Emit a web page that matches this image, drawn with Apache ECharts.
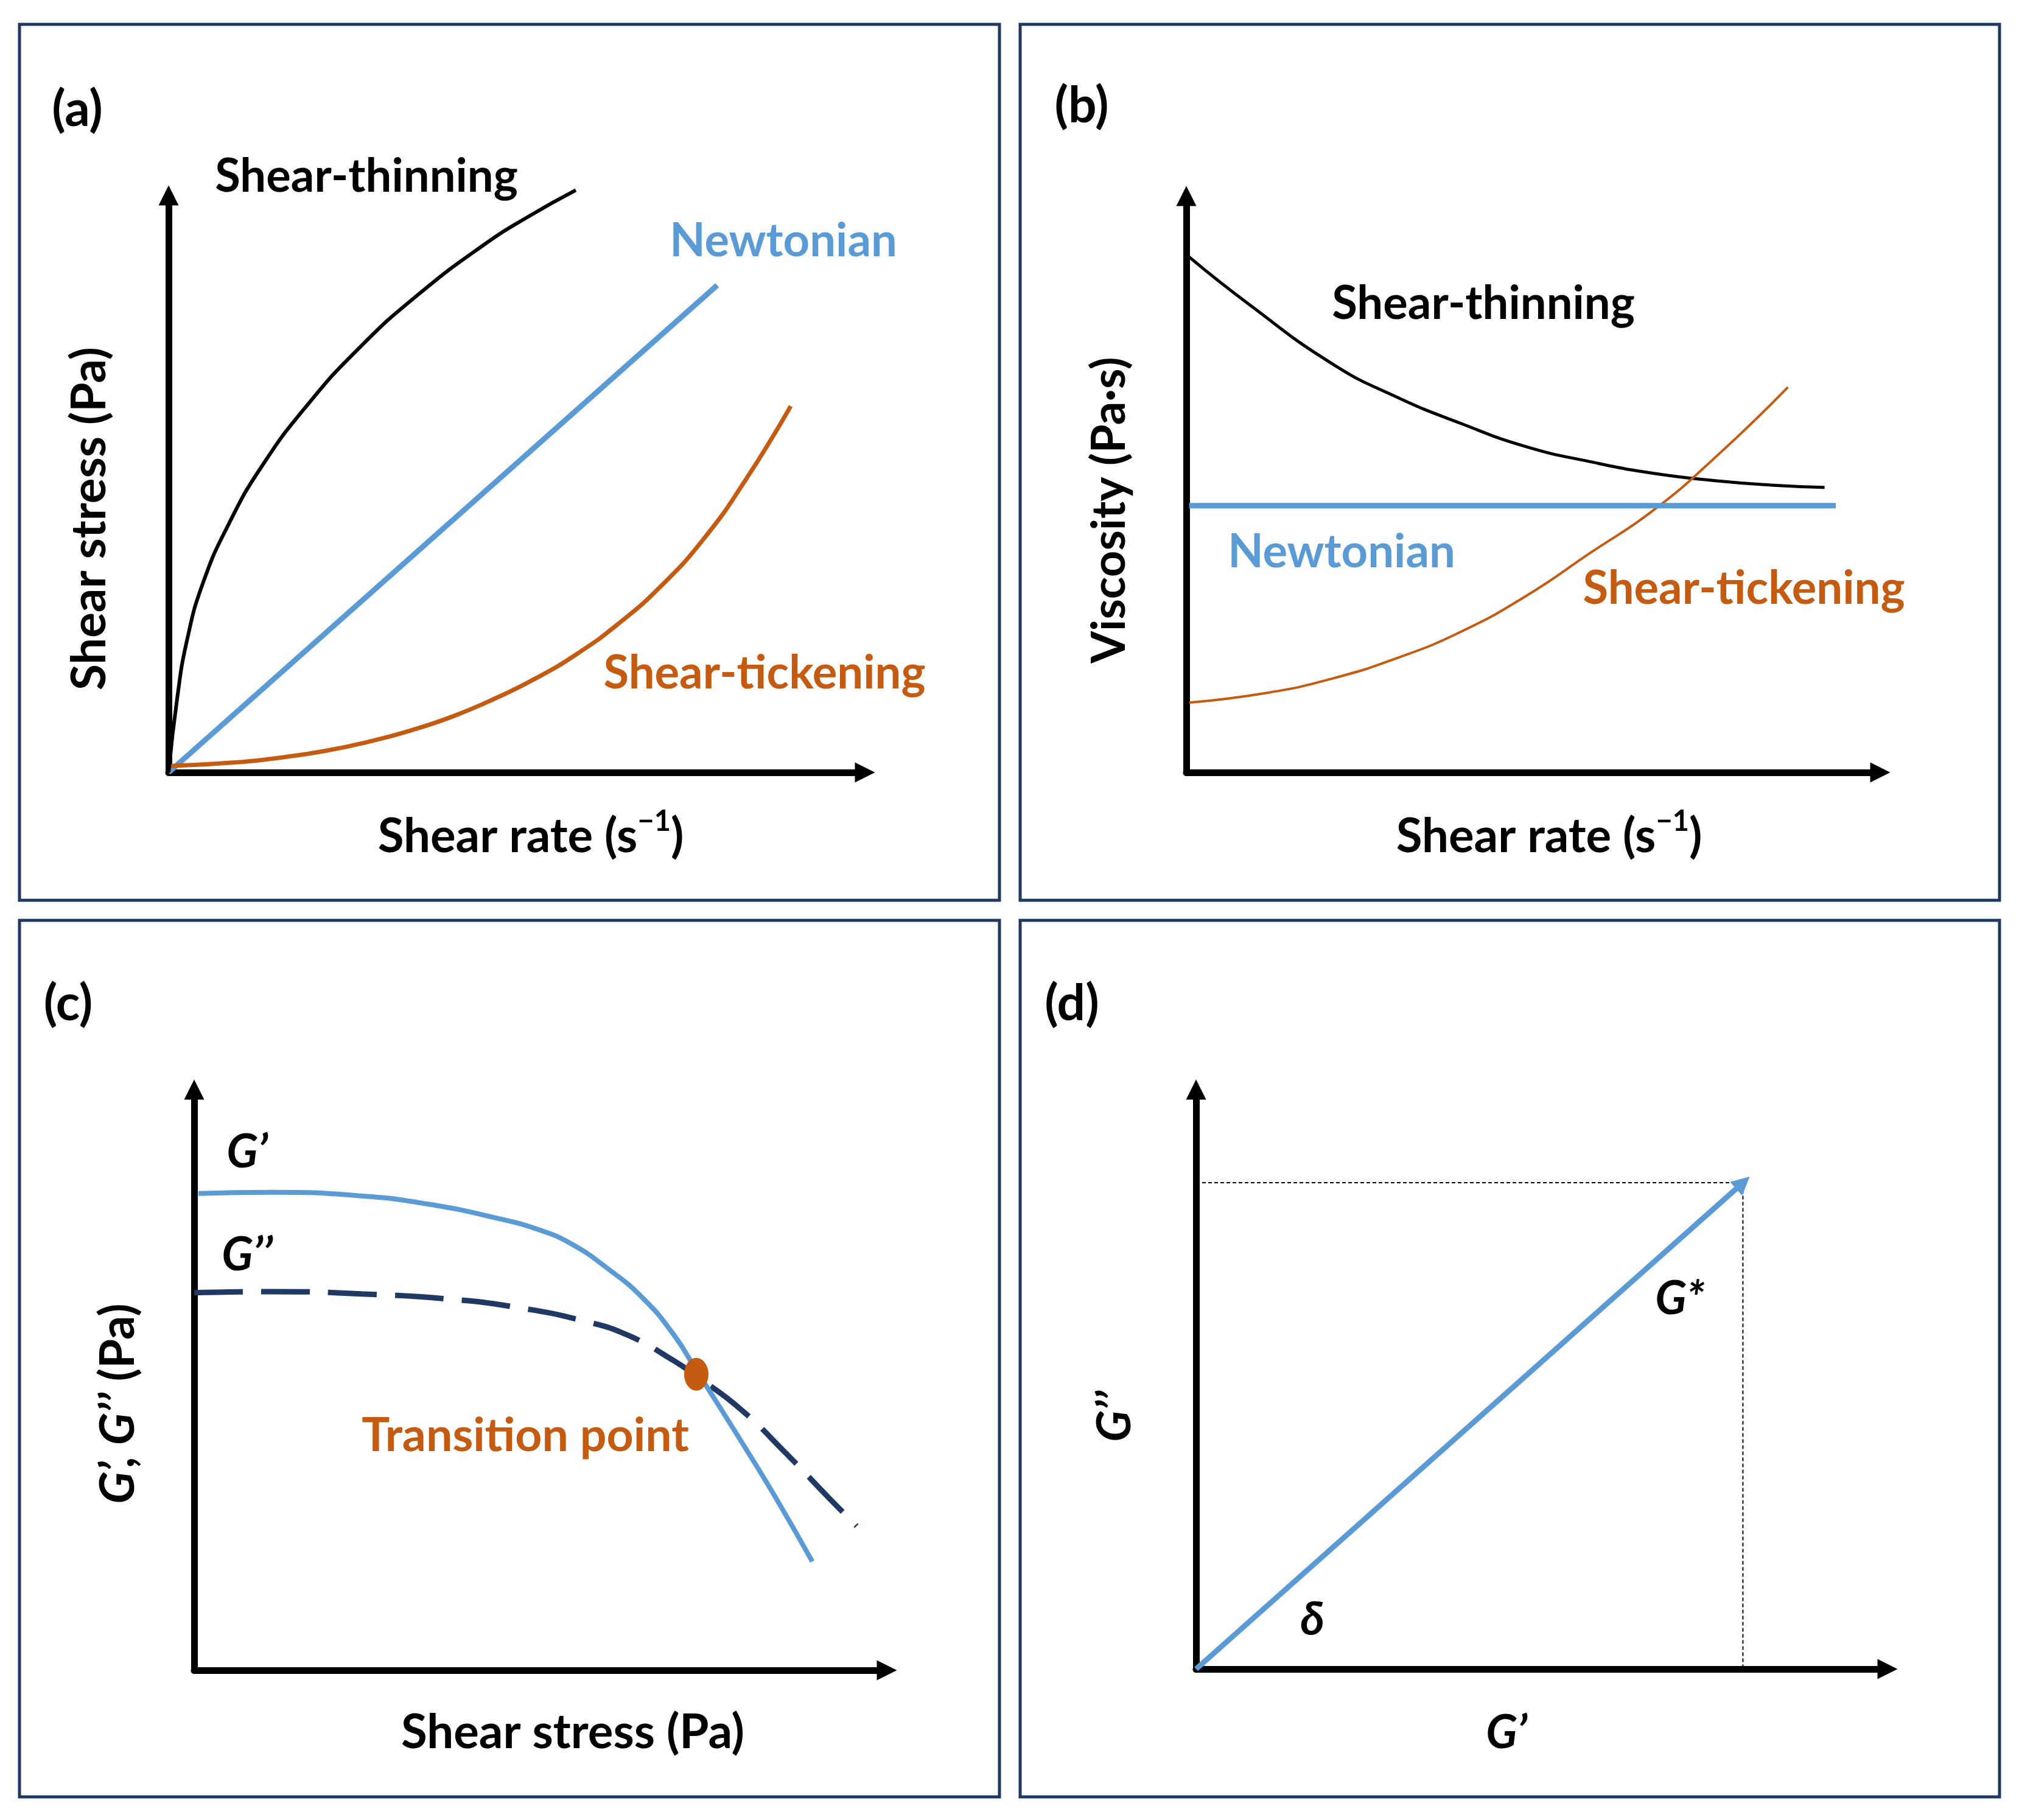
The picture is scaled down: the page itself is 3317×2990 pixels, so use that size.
<!DOCTYPE html>
<html><head><meta charset="utf-8">
<script src="https://cdn.jsdelivr.net/npm/echarts@6/dist/echarts.min.js"></script>
<style>html,body{margin:0;padding:0;background:#fff}#chart{width:3317px;height:2990px}</style>
</head><body><div id="chart"></div>
<script>
// ---- data (values in % of axis arrow length) ----
// (a) shear stress vs shear rate
const thinX_a = [0, 1.2, 2.6, 4.9, 8.5, 13.1, 19.5, 27.2, 35.4, 44.5, 50.9, 57.6];
const thinY_a = [0, 12.5, 22.5, 32.4, 42.3, 52.0, 62.4, 72.6, 81.5, 89.8, 94.7, 99.2];
const newtX_a = [0, 77.6];
const newtY_a = [0, 83.0];
const thickX_a = [0, 10.4, 16.3, 22.3, 28.2, 34.1, 40.1, 46.0, 51.9, 57.9, 63.8, 69.7, 75.7, 81.6, 88.0];
const thickY_a = [1.1, 1.8, 2.6, 3.7, 5.2, 7.1, 9.5, 12.5, 16.0, 20.3, 25.5, 31.8, 39.8, 49.8, 62.4];
// (b) viscosity vs shear rate
const thinX_b = [0.4, 8.7, 20.7, 29.9, 39.0, 48.1, 57.3, 66.4, 75.6, 83.0, 90.6];
const thinY_b = [87.9, 80.0, 69.7, 64.0, 59.5, 55.6, 53.0, 51.0, 49.7, 49.0, 48.6];
const newtX_b = [0.4, 92.2];
const newtY_b = [45.5, 45.5];
const thickX_b = [0.4, 11.6, 20.7, 29.9, 39.0, 48.1, 57.3, 66.4, 75.6, 85.4];
const thickY_b = [11.9, 13.6, 16.0, 19.5, 24.0, 30.0, 37.4, 44.8, 54.3, 65.7];
// (c) G', G'' vs shear stress
const gpX = [0.6, 11.1, 23.8, 33.3, 42.8, 49.2, 53.6, 58.7, 63.8, 68.2, 71.4, 74.6, 78.4, 82.8, 87.9];
const gpY = [80.7, 80.9, 80.3, 78.9, 76.6, 74.5, 72.2, 68.1, 63.0, 56.8, 50.8, 44.8, 37.6, 29.0, 18.4];
const gppX = [0, 11.1, 23.8, 36.5, 46.0, 55.5, 61.9, 68.2, 71.4, 77.7, 84.1, 90.4, 94.2];
const gppY = [63.9, 64.1, 63.7, 62.8, 61.4, 59.1, 56.6, 52.4, 49.8, 44.2, 36.8, 29.0, 24.4];
const transition = [71.4, 50.1];
// (d) complex modulus vector
const gStar = [77.9, 82.5];

const zip = (xs, ys) => xs.map((x, i) => [x, ys[i]]);

const FONT = 'Lato, "Open Sans", "Noto Sans", sans-serif';
const FS = 76, FT = 78, FP = 82;
const BLUE = '#5B9BD5', ORANGE = '#C55A11', NAVY = '#203864';

const grids = [
  {left: 277, top: 321, width: 1144, height: 948},
  {left: 1949, top: 322, width: 1140, height: 947},
  {left: 319, top: 1790, width: 1138, height: 954},
  {left: 1965, top: 1790, width: 1136, height: 952}
];
const axisBase = {
  type: 'value', min: 0,
  axisLine: {show: true, onZero: false, symbol: ['none', 'triangle'], symbolSize: [33, 33],
    lineStyle: {color: '#000', width: 11, cap: 'round'}},
  axisTick: {show: false}, axisLabel: {show: false}, splitLine: {show: false}
};
const xAxes = grids.map((g, i) => Object.assign({}, axisBase, {gridIndex: i, max: 98.5}));
const yAxes = grids.map((g, i) => Object.assign({}, axisBase, {gridIndex: i, max: 98.3}));

function curve(name, xs, ys, idx, color, width, extra) {
  return Object.assign({
    name, type: 'line', xAxisIndex: idx, yAxisIndex: idx, data: zip(xs, ys),
    smooth: 0.5, showSymbol: false, symbol: 'none', clip: false, silent: true,
    lineStyle: {color, width}, z: 3
  }, extra || {});
}

const series = [
  curve('Newtonian', newtX_a, newtY_a, 0, BLUE, 9, {smooth: false}),
  curve('Shear-tickening', thickX_a, thickY_a, 0, ORANGE, 7),
  curve('Shear-thinning', thinX_a, thinY_a, 0, '#000', 6),
  curve('Shear-thinning', thinX_b, thinY_b, 1, '#000', 5),
  curve('Shear-tickening', thickX_b, thickY_b, 1, ORANGE, 4),
  curve('Newtonian', newtX_b, newtY_b, 1, BLUE, 9, {smooth: false}),
  curve("G''", gppX, gppY, 2, NAVY, 9, {lineStyle: {color: NAVY, width: 9, type: [80, 30]}}),
  curve("G'", gpX, gpY, 2, BLUE, 8),
  {type: 'scatter', xAxisIndex: 2, yAxisIndex: 2, data: [transition], symbol: 'circle',
   symbolSize: [40, 54], itemStyle: {color: ORANGE, opacity: 1}, z: 5, silent: true},
  {type: 'line', xAxisIndex: 3, yAxisIndex: 3, data: [[0, gStar[1]], gStar, [gStar[0], 0]],
   showSymbol: false, symbol: 'none', silent: true, clip: false,
   lineStyle: {color: '#000', width: 2, type: [6, 4]}, z: 2},
  {type: 'lines', coordinateSystem: 'cartesian2d', xAxisIndex: 3, yAxisIndex: 3,
   data: [{coords: [[0, 0], gStar]}], symbol: ['none', 'triangle'], symbolSize: [30, 30],
   lineStyle: {color: BLUE, width: 9, opacity: 1}, z: 4, silent: true}
];

function txt(text, x, y, opts) {
  opts = opts || {};
  return {
    type: 'text', x, y, rotation: opts.rot || 0, z: 100, silent: true,
    style: Object.assign({
      text, fill: opts.color || '#000', align: 'center', verticalAlign: 'middle',
      font: (opts.italic ? 'italic ' : '') + 'bold ' + (opts.size || FS) + 'px ' + FONT
    }, opts.rich ? {rich: opts.rich} : {})
  };
}
const supRich = {s: {fontSize: 47, fontWeight: 'bold', fontFamily: FONT, padding: [0, 0, 50, 0]}};
const itRich = {i: {fontSize: FT, fontWeight: 'bold', fontStyle: 'italic', fontFamily: FONT}};
const R = Math.PI / 2;

function box(x, y, w, h) {
  return {type: 'rect', shape: {x, y, width: w, height: h}, z: 50, silent: true,
    style: {fill: 'none', stroke: NAVY, lineWidth: 5}};
}

const graphic = [
  box(32, 40, 1610, 1439), box(1676, 40, 1609, 1439),
  box(32, 1512, 1610, 1440), box(1676, 1512, 1609, 1440),
  txt('(a)', 127, 181, {size: FP}), txt('(b)', 1777, 175, {size: FP}),
  txt('(c)', 112, 1650, {size: FP}), txt('(d)', 1761, 1650, {size: FP}),
  txt('Shear-thinning', 602, 290),
  txt('Newtonian', 1287, 396, {color: BLUE}),
  txt('Shear-tickening', 1256, 1106, {color: ORANGE}),
  txt('Shear rate (s{s|−1})', 872, 1375, {rich: supRich, size: FT}),
  txt('Shear stress (Pa)', 148, 852, {rot: R, size: FT}),
  txt('Shear-thinning', 2437, 499),
  txt('Newtonian', 2204, 907, {color: BLUE}),
  txt('Shear-tickening', 2865, 967, {color: ORANGE}),
  txt('Shear rate (s{s|−1})', 2545, 1375, {rich: supRich, size: FT}),
  txt('Viscosity (Pa·s)', 1823, 838, {rot: R}),
  txt('G’', 406, 1893, {italic: true}),
  txt('G’’', 406, 2062, {italic: true}),
  txt('Transition point', 863, 2359, {color: ORANGE, size: 77}),
  txt('Shear stress (Pa)', 941, 2847, {size: FT}),
  txt('{i|G’, G’’} (Pa)', 195, 2306, {rot: R, rich: itRich, size: FT}),
  txt('G*', 2760, 2134, {italic: true}),
  txt('δ', 2156, 2661, {italic: true}),
  txt('G’', 2475, 2847, {italic: true}),
  txt('G’’', 1832, 2327, {italic: true, rot: R})
];

const chart = echarts.init(document.getElementById('chart'), null, {renderer: 'canvas'});
chart.setOption({
  backgroundColor: '#fff', animation: false,
  grid: grids, xAxis: xAxes, yAxis: yAxes, series, graphic
});
</script></body></html>
